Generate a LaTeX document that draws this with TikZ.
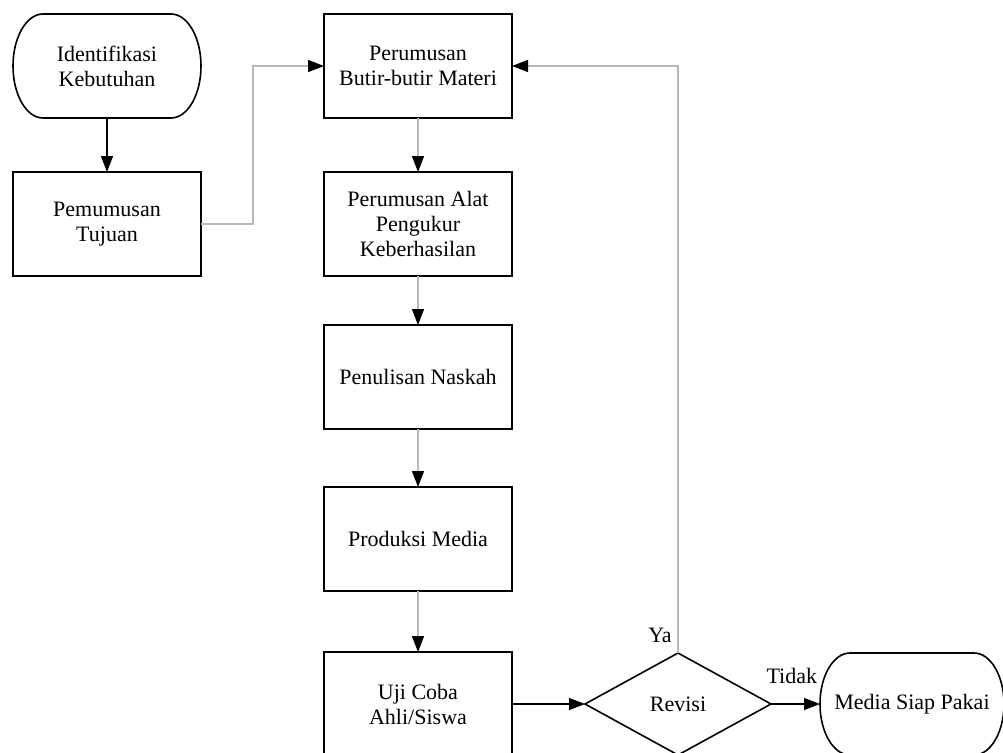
\documentclass[tikz,border=0pt]{standalone}
\usepackage{fontspec}
\setmainfont{Liberation Serif}
\usepackage{tikz}
\usetikzlibrary{arrows.meta, positioning, shapes.geometric}

% outline of a start/end node: flat top and bottom, oval ends
\newcommand{\terminaloutline}[2]{%
	\draw[line width=1.2pt] ([xshift=22.5pt]#1.north west) -- ([xshift=-22.5pt]#1.north east)
	arc[start angle=90, end angle=-90, x radius=22.5pt, y radius=#2]
	-- ([xshift=22.5pt]#1.south west)
	arc[start angle=270, end angle=90, x radius=22.5pt, y radius=#2] -- cycle;}

\begin{document}
\begin{tikzpicture}[
	every node/.style={font=\fontsize{16.5pt}{18.75pt}\selectfont},
	process/.style={draw, line width=1.2pt, rectangle, minimum width=141pt, minimum height=78pt, align=center, outer sep=0pt},
	terminal/.style={rectangle, minimum width=141pt, minimum height=78pt, align=center, outer sep=0pt},
	decision/.style={draw, line width=1.2pt, diamond, minimum width=139.5pt, minimum height=76.5pt, inner sep=0pt, outer sep=0pt},
	tag/.style={inner sep=0pt},
	arrow/.style={-{Triangle[length=12pt,width=9pt]}, line width=1pt},
	grayarrow/.style={arrow, draw=black!28, -{Triangle[length=12pt,width=9pt,color=black]}}
	]
	\useasboundingbox (0,0) rectangle (752.25pt,-564.75pt);
	
	% left column
	\node[terminal] (ident) at (80.25pt,-49.5pt) {Identifikasi\\Kebutuhan};
	\node[process, below=40.5pt of ident] (tujuan) {Pemumusan\\Tujuan};
	
	% middle column
	\node[process, right=92.25pt of ident] (butir) {Perumusan\\Butir-butir Materi};
	\node[process, below=40.5pt of butir] (alat) {Perumusan Alat\\Pengukur\\Keberhasilan};
	\node[process, below=36.75pt of alat] (naskah) {Penulisan Naskah};
	\node[process, below=43.5pt of naskah] (produksi) {Produksi Media};
	\node[process, below=45.75pt of produksi] (uji) {Uji Coba\\Ahli/Siswa};
	
	% bottom row
	\node[decision, right=54.75pt of uji] (revisi) {Revisi};
	\node[terminal, minimum width=138pt, minimum height=76.5pt, right=36.75pt of revisi] (siap) {Media Siap Pakai};
	
	\terminaloutline{ident}{39pt}
	\terminaloutline{siap}{38.25pt}
	
	% labels
	\node[tag, above left=7.5pt and 4.5pt of revisi.north] (ya) {Ya};
	\node[tag, above left=15pt and 2pt of siap.west] (tidak) {Tidak};
	
	% connections
	\draw[arrow] (ident) -- (tujuan);
	\draw[grayarrow] (tujuan.east) -- ++(39pt,0) |- (butir.west);
	\draw[grayarrow] (butir) -- (alat);
	\draw[grayarrow] (alat) -- (naskah);
	\draw[grayarrow] (naskah) -- (produksi);
	\draw[grayarrow] (produksi) -- (uji);
	\draw[arrow] (uji) -- (revisi);
	\draw[arrow] (revisi) -- (siap);
	\draw[grayarrow] (revisi.north) |- (butir.east);
	
\end{tikzpicture}
\end{document}
